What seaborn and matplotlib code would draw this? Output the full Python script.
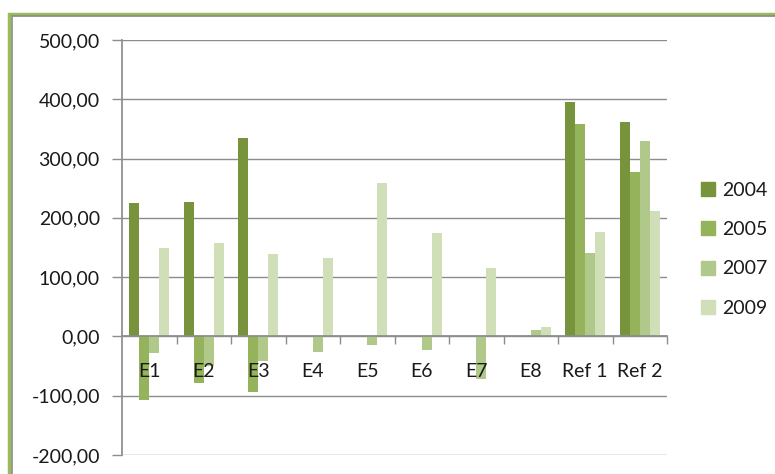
import matplotlib
matplotlib.use("Agg")
import matplotlib.pyplot as plt
import matplotlib.patches as mpatches
from matplotlib.ticker import FuncFormatter, FixedLocator
import seaborn as sns
import pandas as pd

categories = ["E1", "E2", "E3", "E4", "E5", "E6", "E7", "E8", "Ref 1", "Ref 2"]
years = ["2004", "2005", "2007", "2009"]
v2004 = [225, 227, 335, 0, 0, 0, 0, 0, 396, 361]
v2005 = [-108, -79, -93, 0, 0, 0, 0, 0, 358, 278]
v2007 = [-28, -50, -41, -27, -15, -23, -72, 11, 141, 329]
v2009 = [149, 158, 139, 132, 259, 174, 116, 16, 176, 212]
colors = ["#77933c", "#95b35a", "#b0c98b", "#d0dfb8"]

rows = []
for yr, vals in zip(years, [v2004, v2005, v2007, v2009]):
    for c, v in zip(categories, vals):
        rows.append({"cat": c, "year": yr, "val": v})
df = pd.DataFrame(rows)

sns.set_theme(style="white")
plt.rcParams["font.family"] = ["Lato", "DejaVu Sans"]

fig = plt.figure(figsize=(7.75, 4.74), dpi=100, facecolor="white")
ax = fig.add_axes([122 / 775, 1 - 455 / 474, 545 / 775, 415 / 474])

sns.barplot(data=df, x="cat", y="val", hue="year", order=categories,
            hue_order=years, palette=colors, width=0.74, saturation=1,
            ax=ax, legend=False, linewidth=0)

ax.set_xlim(-0.5, len(categories) - 0.5)
ax.set_ylim(-200, 500)
ax.set_yticks(range(-200, 501, 100))
ax.yaxis.set_major_formatter(FuncFormatter(lambda v, p: f"{v:.2f}".replace(".", ",")))
ax.grid(axis="y", color="#8c8c8c", linewidth=1)
ax.set_axisbelow(True)
ax.xaxis.set_zorder(5)
ax.set_xlabel("")
ax.set_ylabel("")

for s in ["top", "right"]:
    ax.spines[s].set_visible(False)
ax.spines["left"].set_color("#8c8c8c")
ax.spines["bottom"].set_color("#8c8c8c")
ax.spines["bottom"].set_position(("data", 0))

ax.tick_params(axis="y", which="major", left=True, length=7, width=1,
               color="#8c8c8c", pad=9, labelsize=14, labelcolor="#1a1a1a")
ax.tick_params(axis="x", which="major", bottom=True, length=0, pad=19,
               labelsize=14, labelcolor="#1a1a1a")
ax.xaxis.set_minor_locator(FixedLocator([i + 0.5 for i in range(len(categories))]))
ax.tick_params(axis="x", which="minor", bottom=True, length=6, width=1,
               color="#8c8c8c", direction="out")

handles = [mpatches.Patch(color=c, label=y) for c, y in zip(colors, years)]
leg = fig.legend(handles=handles, loc="upper left",
                 bbox_to_anchor=(693 / 775, 1 - 174 / 474), frameon=False,
                 fontsize=14, handlelength=0.75, handleheight=0.75,
                 handletextpad=0.35, labelspacing=1.15, borderaxespad=0)
for t in leg.get_texts():
    t.set_color("#1a1a1a")

# chart frame
fig.patches.append(mpatches.Rectangle((9 / 775, -0.1), 1.1, 1 - 13.5 / 474 + 0.1,
                                      transform=fig.transFigure, fill=False,
                                      edgecolor="#9bbb59", linewidth=2.5,
                                      clip_on=False))
fig.patches.append(mpatches.Rectangle((12 / 775, -0.1), 1.1, 1 - 16.5 / 474 + 0.1,
                                      transform=fig.transFigure, fill=False,
                                      edgecolor="#8a8a8a", linewidth=1.2,
                                      clip_on=False))

fig.savefig("out.png", dpi=100, facecolor="white")
